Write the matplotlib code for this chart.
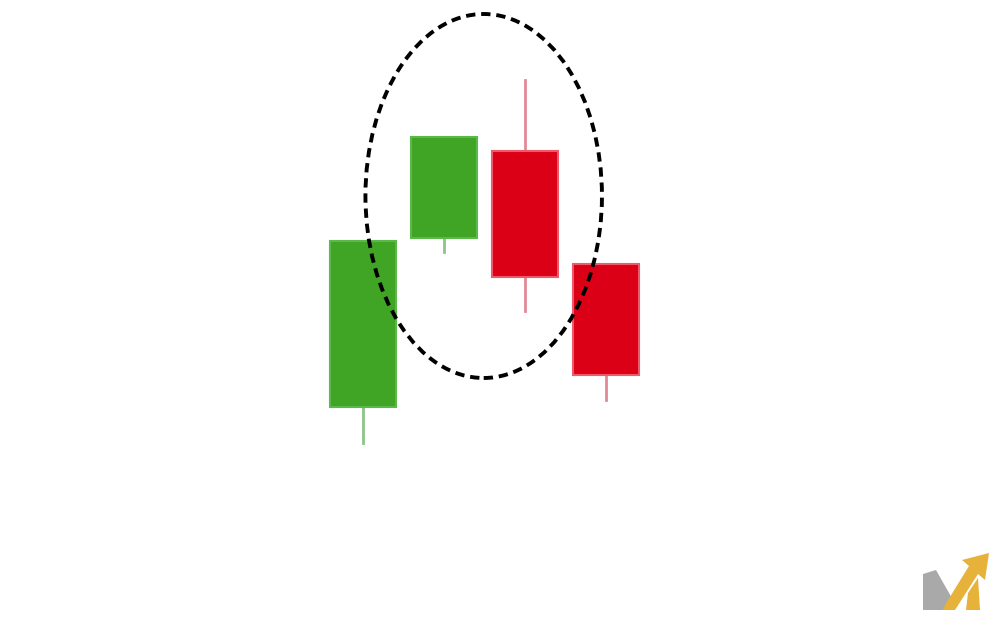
"""
Candlestick pattern sketch: four candles with a dashed ellipse around the middle two
"""

import matplotlib.pyplot as plt
from matplotlib.patches import Ellipse, Rectangle, Polygon

# ----- Data (arbitrary price units) -----
candle_idx = [0, 1, 2, 3]
opens  = [21.4, 38.3, 47.0, 35.7]
closes = [38.0, 48.4, 34.4, 24.6]
highs  = [38.0, 48.4, 54.1, 35.7]
lows   = [17.8, 36.9, 31.0, 22.1]

up_color = '#40a424'
up_edge = '#5cb84a'
up_wick = '#8cc48a'
down_color = '#dc0016'
down_edge = '#ef5a6a'
down_wick = '#e08a96'

# ----- Plot -----
fig = plt.figure(figsize=(10, 6.21), dpi=100)
ax = fig.add_axes([0, 0, 1, 1])

body_w = 0.815
for i, o, c, h, l in zip(candle_idx, opens, closes, highs, lows):
    up = c >= o
    lo_b, hi_b = min(o, c), max(o, c)
    wick = up_wick if up else down_wick
    if h > hi_b:
        ax.plot([i, i], [hi_b, h], color=wick, linewidth=2, zorder=1)
    if l < lo_b:
        ax.plot([i, i], [l, lo_b], color=wick, linewidth=2, zorder=1)
    ax.add_patch(Rectangle((i - body_w / 2, lo_b), body_w, hi_b - lo_b,
                           facecolor=up_color if up else down_color,
                           edgecolor=up_edge if up else down_edge,
                           linewidth=1.5, zorder=2))

# dashed ellipse around the middle pair
ax.add_patch(Ellipse((1.49, 42.5), 2.92, 36.4, fill=False,
                     edgecolor='black', linewidth=2.8,
                     linestyle=(0, (2.4, 1.5)), zorder=3))

ax.set_xlim(-363 / 81, (1000 - 363) / 81)
ax.set_ylim(0, 62.1)
ax.axis('off')

# logo, bottom right (figure pixel coords)
px = lambda pts: [(x / 1000, (621 - y) / 621) for x, y in pts]
logo = [
    ([(923, 574), (936, 570), (953, 600), (947, 610), (923, 610)], '#a9a9a9'),
    ([(943, 610), (955, 610), (978, 574), (985, 580), (989, 553),
      (962, 560), (969, 566), (945, 605)], '#e6b23a'),
    ([(968, 593), (978, 578), (980, 610), (966, 610)], '#e6b23a'),
]
for pts, col in logo:
    fig.patches.append(Polygon(px(pts), closed=True, facecolor=col,
                               edgecolor='none', transform=fig.transFigure))

plt.savefig('out.png', dpi=100)
